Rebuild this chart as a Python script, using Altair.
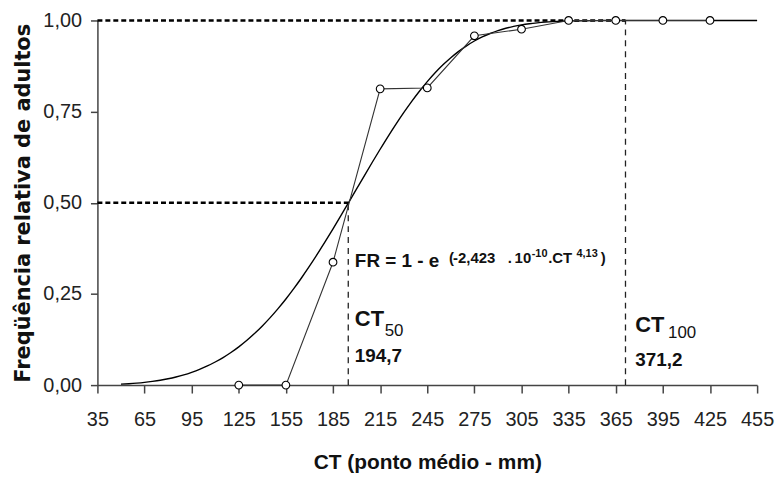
import altair as alt
import pandas as pd

# observed relative frequencies
ct_obs = [125, 155, 185, 215, 245, 275, 305, 335, 365, 395, 425]
fr_obs = [0, 0, 0.337, 0.8125, 0.815, 0.958, 0.976, 1, 1, 1, 1]

# fitted curve
ct_fit = [50, 55, 60, 65, 70, 75, 80, 85, 90, 95, 100, 105, 110, 115, 120, 125,
          130, 135, 140, 145, 150, 155, 160, 165, 170, 175, 180, 185, 190, 195,
          200, 205, 210, 215, 220, 225, 230, 235, 240, 245, 250, 255, 260, 265,
          270, 275, 280, 285, 290, 295, 300, 305, 310, 315, 320, 325, 330, 335,
          340, 345, 350, 355, 360, 365, 455]
fr_fit = [0.0025, 0.0037, 0.0053, 0.0074, 0.0101, 0.0133, 0.0174, 0.0223, 0.0281,
          0.0351, 0.0431, 0.0525, 0.0633, 0.0755, 0.0894, 0.1049, 0.1222, 0.1413,
          0.1622, 0.1850, 0.2097, 0.2362, 0.2645, 0.2944, 0.3260, 0.3590, 0.3932,
          0.4285, 0.4646, 0.5012, 0.5379, 0.5747, 0.6111, 0.6468, 0.6817, 0.7151,
          0.7472, 0.7775, 0.8059, 0.8322, 0.8564, 0.8783, 0.8979, 0.9153, 0.9305,
          0.9437, 0.9549, 0.9643, 0.9722, 0.9786, 0.9838, 0.9879, 0.9911, 0.9935,
          0.9954, 0.9968, 0.9978, 0.9985, 0.9990, 0.9993, 0.9996, 0.9997, 0.9998,
          0.9999, 1.0]

x_ticks = [35, 65, 95, 125, 155, 185, 215, 245, 275, 305, 335, 365, 395, 425, 455]
y_ticks = [0, 0.25, 0.5, 0.75, 1.0]

ct50 = 194.7
ct100 = 371.2
x_min, x_max = 35, 455

obs = pd.DataFrame({"x": ct_obs, "y": fr_obs})
fit = pd.DataFrame({"x": ct_fit, "y": fr_fit})

h_rules = pd.DataFrame({"x": [x_min, x_min], "x2": [ct50, ct100], "y": [0.5, 1.0]})
v_rules = pd.DataFrame({"x": [ct50, ct100], "y": [0, 0], "y2": [0.5, 1.0]})

# annotation texts: (x, y, text)
ann_big = pd.DataFrame({"x": [198.9], "y": [0.325], "t": ["FR = 1 - e"]})
ann_sup = pd.DataFrame({"x": [258.9, 261.4, 296.2, 300.6, 322.0, 355.5],
                        "y": [0.336, 0.336, 0.336, 0.336, 0.336, 0.336],
                        "t": ["(", "-2,423", ".", "10", ".CT", ")"]})
ann_sup2 = pd.DataFrame({"x": [311.5, 340.0], "y": [0.352, 0.352], "t": ["-10", "4,13"]})
ann_ct = pd.DataFrame({"x": [198.9, 377.4], "y": [0.162, 0.145], "t": ["CT", "CT"]})
ann_sub = pd.DataFrame({"x": [217.9, 398.3], "y": [0.135, 0.130], "t": ["50", "100"]})
ann_val = pd.DataFrame({"x": [198.9, 377.4], "y": [0.064, 0.053], "t": ["194,7", "371,2"]})

label_font = "Liberation Sans"
title_font = "Liberation Sans"

x_axis = alt.Axis(values=x_ticks, title="CT (ponto médio - mm)", grid=False,
                  domainColor="#444", domainWidth=1.5, tickColor="#444", tickWidth=1.5,
                  tickSize=8, labelFont=label_font, labelFontSize=20, labelColor="#222",
                  labelPadding=17, labelFlush=False, labelOverlap=False,
                  titleFont=title_font, titleFontSize=21, titleFontWeight="bold",
                  titleColor="#111", titlePadding=22)
y_axis = alt.Axis(values=y_ticks, title="Freqüência relativa de adultos", grid=False,
                  domainColor="#444", domainWidth=1.5, tickColor="#444", tickWidth=1.5,
                  tickSize=7, labelFont=label_font, labelFontSize=20, labelColor="#222",
                  labelPadding=9, labelExpr="replace(format(datum.value, '.2f'), '.', ',')",
                  titleFont="DejaVu Sans", titleFontSize=21, titleFontWeight="bold",
                  titleColor="#111", titlePadding=9)

xs = alt.Scale(domain=[x_min, x_max], nice=False, zero=False)
ys = alt.Scale(domain=[0, 1], nice=False)


def X(f="x"):
    return alt.X(f"{f}:Q", scale=xs, axis=x_axis)


def Y(f="y"):
    return alt.Y(f"{f}:Q", scale=ys, axis=y_axis)


hr = alt.Chart(h_rules).mark_rule(color="black", strokeWidth=2.5, strokeDash=[5, 3]).encode(
    x=X(), x2="x2:Q", y=Y())
vr = alt.Chart(v_rules).mark_rule(color="#222", strokeWidth=1.3, strokeDash=[6, 5]).encode(
    x=X(), y=Y(), y2="y2:Q")

curve = alt.Chart(fit).mark_line(color="black", strokeWidth=1.4, interpolate="monotone").encode(
    x=X(), y=Y())
obs_line = alt.Chart(obs).mark_line(color="#333", strokeWidth=1.1).encode(x=X(), y=Y())
pts = alt.Chart(obs).mark_point(shape="circle", filled=True, fill="white", stroke="black",
                                strokeWidth=1.1, size=60, opacity=1).encode(x=X(), y=Y())


def txt(df, size, weight, font=title_font):
    return alt.Chart(df).mark_text(align="left", baseline="alphabetic", fontSize=size,
                                   fontWeight=weight, font=font, color="#111").encode(
        x=X(), y=Y(), text="t:N")


layers = [hr, vr, curve, obs_line, pts,
          txt(ann_big, 19, "bold"),
          txt(ann_sup, 15, "bold"),
          txt(ann_sup2, 11, "bold"),
          txt(ann_ct, 22, "bold"),
          txt(ann_sub, 17, "normal"),
          txt(ann_val, 19, "bold")]

chart = alt.layer(*layers).properties(
    width=664, height=367,
    autosize=alt.AutoSizeParams(type="none"),
    padding={"left": 90, "top": 11, "right": 18, "bottom": 97},
).configure_view(stroke=None)

chart.save("out.html", embed_options={"renderer": "svg", "actions": False})
